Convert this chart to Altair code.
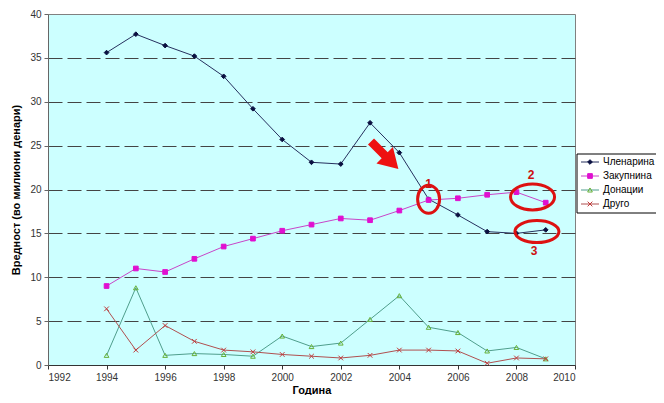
import altair as alt
import pandas as pd

years = list(range(1994, 2010))
series_names = ["Членарина", "Закупнина", "Донации", "Друго"]
clenarina = [35.6, 37.7, 36.4, 35.2, 32.9, 29.2, 25.7, 23.1, 22.9, 27.6, 24.2, 18.9, 17.1, 15.2, 15.0, 15.4]
zakupnina = [9.0, 11.0, 10.6, 12.1, 13.5, 14.4, 15.3, 16.0, 16.7, 16.5, 17.6, 18.8, 19.0, 19.4, 19.7, 18.5]
donacii = [1.1, 8.8, 1.1, 1.3, 1.2, 1.0, 3.3, 2.1, 2.5, 5.2, 7.9, 4.3, 3.7, 1.6, 2.0, 0.7]
drugo = [6.4, 1.7, 4.5, 2.7, 1.7, 1.5, 1.2, 1.0, 0.8, 1.1, 1.7, 1.7, 1.6, 0.2, 0.8, 0.7]

line_colors = ["#26305e", "#c845c8", "#4f9e8c", "#b05050"]
marker_colors = ["#0a1040", "#e010d0", "#66b038", "#c03a3a"]
marker_fills = ["#0a1040", "#e010d0", "transparent", "transparent"]
marker_shapes = ["diamond", "square", "triangle-up", "M-1,-1L1,1M-1,1L1,-1"]

# annotations
ann_labels = ["1", "2", "3"]
ann_label_x = [2005.0, 2008.5, 2008.6]
ann_label_y = [20.6, 21.6, 13.0]
ell_x = [2005.0, 2008.55, 2008.7]
ell_y = [18.9, 19.15, 15.2]
ell_shapes = [
    "M-0.786,0 A0.786,1 0 1,1 0.786,0 A0.786,1 0 1,1 -0.786,0 Z",
    "M-1,0 A1,0.59 0 1,1 1,0 A1,0.59 0 1,1 -1,0 Z",
    "M-1,0 A1,0.5 0 1,1 1,0 A1,0.5 0 1,1 -1,0 Z",
]
ell_sizes = [784, 1936, 1936]
arrow_x = [2003.5]
arrow_y = [23.9]

rows = []
for name, vals in zip(series_names, [clenarina, zakupnina, donacii, drugo]):
    for y, v in zip(years, vals):
        rows.append({"Година": y, "Вредност": v, "серија": name, "линија": name})
df = pd.DataFrame(rows)

FONT = "Liberation Sans"

x_enc = alt.X("Година:Q", scale=alt.Scale(domain=[1992, 2010], nice=False),
              axis=alt.Axis(values=list(range(1992, 2011, 2)), format="d", title="Година",
                            grid=False, labelColor="#333333", labelFontSize=10,
                            titleFontSize=11, titleFontWeight="bold", titleColor="#000000",
                            domainColor="#333333", tickColor="#333333", tickSize=4,
                            labelPadding=3, titlePadding=2, labelFont=FONT, titleFont=FONT))
y_enc = alt.Y("Вредност:Q", scale=alt.Scale(domain=[0, 40], nice=False),
              axis=alt.Axis(values=list(range(0, 41, 5)), title="Вредност (во милиони денари)",
                            grid=True, gridDash=[14, 5], gridColor="#444444",
                            gridOpacity={"condition": {"test": "datum.value === 40 || datum.value === 0", "value": 0}, "value": 1},
                            labelColor="#333333", labelFontSize=10, titleFontSize=11,
                            titleFontWeight="bold", titleColor="#000000",
                            domainColor="#666666", tickColor="#666666", tickSize=4,
                            labelPadding=3, titlePadding=8, labelFont=FONT, titleFont=FONT))

lines = alt.Chart(df).mark_line(strokeWidth=1).encode(
    x=x_enc, y=y_enc,
    stroke=alt.Stroke("линија:N", scale=alt.Scale(domain=series_names, range=line_colors), legend=None),
    detail="линија:N",
)

points = alt.Chart(df).mark_point(filled=False, strokeWidth=1, opacity=1).encode(
    x="Година:Q", y="Вредност:Q",
    color=alt.Color("серија:N", scale=alt.Scale(domain=series_names, range=marker_colors), legend=None),
    shape=alt.Shape("серија:N", scale=alt.Scale(domain=series_names, range=marker_shapes), legend=None),
    fill=alt.Fill("серија:N", scale=alt.Scale(domain=series_names, range=marker_fills), legend=None),
    size=alt.value(22),
)

layers = [lines, points]
for ex, ey, es, ez in zip(ell_x, ell_y, ell_shapes, ell_sizes):
    edf = pd.DataFrame({"x": [ex], "y": [ey]})
    layers.append(
        alt.Chart(edf).mark_point(filled=False, stroke="#dd1111", strokeWidth=3, opacity=1, shape=es, size=ez)
        .encode(x="x:Q", y="y:Q")
    )

lab_df = pd.DataFrame({"x": ann_label_x, "y": ann_label_y, "t": ann_labels})
layers.append(alt.Chart(lab_df).mark_text(color="#cc1111", fontSize=12, fontWeight="bold", font=FONT).encode(
    x="x:Q", y="y:Q", text="t:N"
))

arr_df = pd.DataFrame({"x": arrow_x, "y": arrow_y})
layers.append(alt.Chart(arr_df).mark_point(
    filled=True, color="#ee1111", opacity=1, angle=315, size=1500,
    shape="M-0.22,-1 L0.22,-1 L0.22,0 L0.6,0 L0,1 L-0.6,0 L-0.22,0 Z",
).encode(x="x:Q", y="y:Q"))

# legend box (drawn as marks, to the right of the plot)
one = pd.DataFrame({"k": [0]})
LX, LY, LH, ROW = 529, 140, 59, 14
layers.append(alt.Chart(one).mark_rect(fill="#ffffff", stroke="#000000", strokeWidth=1).encode(
    x=alt.value(LX), x2=alt.value(LX + 140), y=alt.value(LY), y2=alt.value(LY + LH)))
for i, name in enumerate(series_names):
    ry = LY + 8 + i * ROW
    layers.append(alt.Chart(one).mark_rule(stroke=line_colors[i], strokeWidth=1).encode(
        x=alt.value(LX + 4), x2=alt.value(LX + 22), y=alt.value(ry)))
    layers.append(alt.Chart(one).mark_point(
        shape=marker_shapes[i], stroke=marker_colors[i], fill=marker_fills[i],
        strokeWidth=1, opacity=1, size=22).encode(x=alt.value(LX + 13), y=alt.value(ry)))
    layers.append(alt.Chart(one).mark_text(
        align="left", baseline="middle", fontSize=10, font=FONT, color="#000000", text=name
    ).encode(x=alt.value(LX + 26), y=alt.value(ry)))

chart = alt.layer(*layers).properties(
    width=527, height=351,
    autosize=alt.AutoSizeParams(type="none"),
    padding={"left": 40, "top": 6, "right": 81, "bottom": 30},
    background="#ffffff",
).configure_view(
    fill="#ccffff", stroke="#808080", strokeWidth=1
)

chart.save("out.html", embed_options={"renderer": "svg", "actions": False})
